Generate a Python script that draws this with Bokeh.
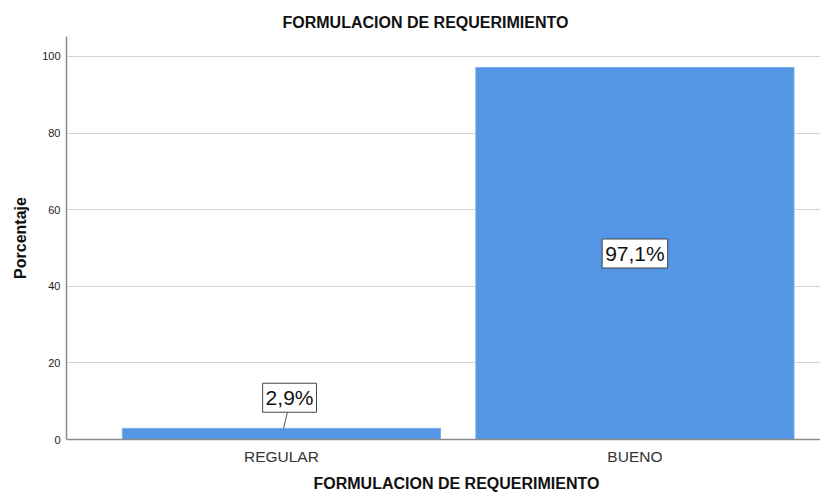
from bokeh.plotting import figure
from bokeh.models import Range1d, FixedTicker, Label, Title, ColumnDataSource
from bokeh.embed import file_html
from bokeh.resources import INLINE

# ---- data ----
categories = ["REGULAR", "BUENO"]
percentages = [2.9, 97.1]
label_texts = ["2,9%", "97,1%"]
y_ticks = [0, 20, 40, 60, 80, 100]
chart_title = "FORMULACION DE REQUERIMIENTO"
x_title = "FORMULACION DE REQUERIMIENTO"
y_title = "Porcentaje"

FONT = "Liberation Sans"
BAR_COLOR = "#5595e5"

positions = list(range(len(categories)))
src = ColumnDataSource(dict(x=positions, top=percentages))

p = figure(width=820, height=497, output_backend="svg", toolbar_location=None,
           x_range=Range1d(-0.608, len(categories) - 1 + 0.525),
           y_range=Range1d(0, 105.2),
           min_border_left=66, min_border_right=0, min_border_top=36, min_border_bottom=58)
p.outline_line_color = None
p.background_fill_color = "white"
p.border_fill_color = "white"

# title
t = Title(text=chart_title, align="left", offset=216, text_font=FONT, standoff=12,
          text_font_size="16px", text_font_style="bold", text_color="#111111")
p.add_layout(t, "above")

p.vbar(x="x", top="top", width=0.9, source=src, fill_color=BAR_COLOR,
       line_color="#79acec", line_width=1)

# axes
p.xaxis.ticker = FixedTicker(ticks=positions)
p.xaxis.major_label_overrides = {i: c for i, c in zip(positions, categories)}
p.xaxis.major_tick_line_color = None
p.xaxis.major_tick_out = 0
p.xaxis.major_tick_in = 0
p.xaxis.minor_tick_line_color = None
p.xaxis.axis_line_color = "#8c8c8c"
p.xaxis.axis_line_width = 1.5
p.xaxis.major_label_text_font = FONT
p.xaxis.major_label_text_font_size = "15.5px"
p.xaxis.major_label_text_color = "#333333"
p.xaxis.major_label_standoff = 8

# x-axis title (as a title below the axis so it can sit where the reference has it)
xt = Title(text=x_title, align="left", offset=247, text_font=FONT, standoff=10,
           text_font_size="16px", text_font_style="bold", text_color="#111111")
p.add_layout(xt, "below")

p.yaxis.ticker = FixedTicker(ticks=y_ticks)
p.yaxis.major_tick_line_color = None
p.yaxis.major_tick_out = 0
p.yaxis.major_tick_in = 0
p.yaxis.minor_tick_line_color = None
p.yaxis.axis_line_color = "#8c8c8c"
p.yaxis.axis_line_width = 1.5
p.yaxis.major_label_text_font = FONT
p.yaxis.major_label_text_font_size = "11px"
p.yaxis.major_label_text_color = "#222222"
p.yaxis.major_label_standoff = 6
p.yaxis.axis_label = y_title
p.yaxis.axis_label_text_font = FONT
p.yaxis.axis_label_text_font_size = "16px"
p.yaxis.axis_label_text_font_style = "bold"
p.yaxis.axis_label_text_color = "#111111"
p.yaxis.axis_label_standoff = 10

p.xgrid.grid_line_color = None
p.ygrid.grid_line_color = "#d4d4d4"
p.ygrid.grid_line_width = 1.2

# value labels
lx0, ly0, lx1, ly1 = [], [], [], []
for xi, v, txt in zip(positions, percentages, label_texts):
    if v < 10:
        ly = v + 8.0
        lxx = xi + 0.023
        lx0.append(xi + 0.006); ly0.append(v)
        lx1.append(xi + 0.017); ly1.append(ly - 3.8)
    else:
        ly = v / 2
        lxx = xi
    p.add_layout(Label(x=lxx, y=ly, text=txt, text_align="center", text_baseline="middle",
                       text_font=FONT, text_font_size="21px", text_color="#111111",
                       background_fill_color="white", border_line_color="#444444",
                       border_line_width=1, padding=3))

p.segment(x0=lx0, y0=ly0, x1=lx1, y1=ly1, line_color="#555555", line_width=1)

open("out.html", "w").write(file_html(p, INLINE))
